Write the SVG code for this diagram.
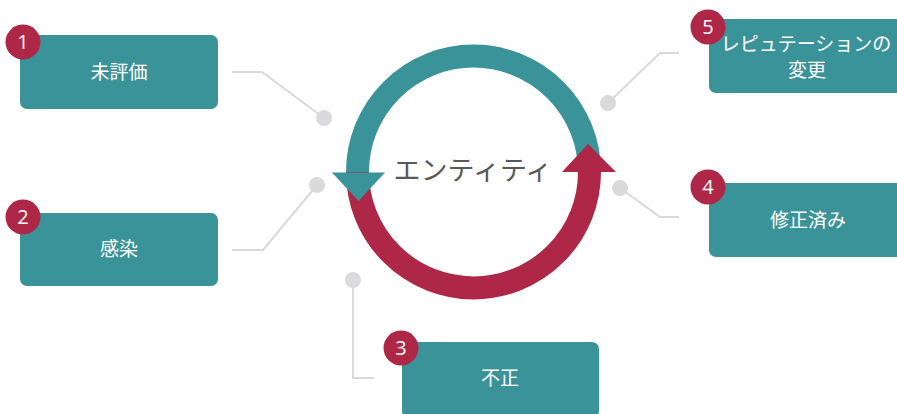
<svg xmlns="http://www.w3.org/2000/svg" width="897" height="414" viewBox="0 0 897 414">
<style>
.box{fill:#3a9399}
.badge{fill:#ae2747}
.num{fill:#ffffff;font-family:"Open Sans","Noto Sans",sans-serif;font-size:20px;text-anchor:middle}
.lbl{fill:#ffffff;font-family:"Noto Sans","Noto Sans CJK JP",sans-serif;font-size:19px;text-anchor:middle}
.ln{fill:none;stroke:#d9d9d9;stroke-width:2}
.dot{fill:#dadadc}
</style>
<rect width="897" height="414" fill="#ffffff"/>
<g id="connectors">
<polyline class="ln" points="232,72 262,72 324,118"/>
<circle class="dot" cx="324" cy="118" r="8"/>
<polyline class="ln" points="232,250 263,250 317,185"/>
<circle class="dot" cx="317" cy="185" r="8"/>
<polyline class="ln" points="374,378 353,378 353,280"/>
<circle class="dot" cx="353" cy="280" r="8"/>
<polyline class="ln" points="679,217 660,217 620,188"/>
<circle class="dot" cx="620" cy="188" r="8"/>
<polyline class="ln" points="679,53 660,53 608,103"/>
<circle class="dot" cx="608" cy="103" r="8"/>
</g>
<g id="cycle">
<path d="M 357.5 172 A 116 116 0 0 0 589.5 172" fill="none" stroke="#ae2747" stroke-width="23"/>
<path d="M 589.5 172 A 116 116 0 0 0 357.5 172" fill="none" stroke="#3a9399" stroke-width="23"/>
<polygon points="332,172.5 385,172.5 358.5,201" fill="#3a9399"/>
<polygon points="562,172 616,172 588,144" fill="#ae2747"/>
<text x="473" y="180" font-family="Noto Sans CJK JP, sans-serif" font-size="27" fill="#595959" text-anchor="middle">エンティティ</text>
</g>
<g id="node1">
<rect class="box" x="20" y="35" width="198" height="74" rx="7"/>
<text class="lbl" x="119" y="79">未評価</text>
<circle class="badge" cx="23" cy="42" r="17.5"/>
<text class="num" x="23" y="49">1</text>
</g>
<g id="node2">
<rect class="box" x="20" y="213" width="198" height="73" rx="7"/>
<text class="lbl" x="119" y="256">感染</text>
<circle class="badge" cx="23" cy="217" r="17.5"/>
<text class="num" x="23" y="224">2</text>
</g>
<g id="node3">
<rect class="box" x="402" y="342" width="197" height="76" rx="7"/>
<text class="lbl" x="500" y="385">不正</text>
<circle class="badge" cx="401" cy="348" r="17.5"/>
<text class="num" x="401" y="355">3</text>
</g>
<g id="node4">
<rect class="box" x="709" y="183" width="198" height="74" rx="7"/>
<text class="lbl" x="808" y="227">修正済み</text>
<circle class="badge" cx="708" cy="187" r="17.5"/>
<text class="num" x="708" y="194">4</text>
</g>
<g id="node5">
<rect class="box" x="709" y="19" width="198" height="74" rx="7"/>
<text class="lbl" x="806" y="51" font-size="17.5">レピュテーションの</text>
<text class="lbl" x="807" y="77" font-size="17.5">変更</text>
<circle class="badge" cx="708" cy="27" r="17.5"/>
<text class="num" x="708" y="34">5</text>
</g>
</svg>
